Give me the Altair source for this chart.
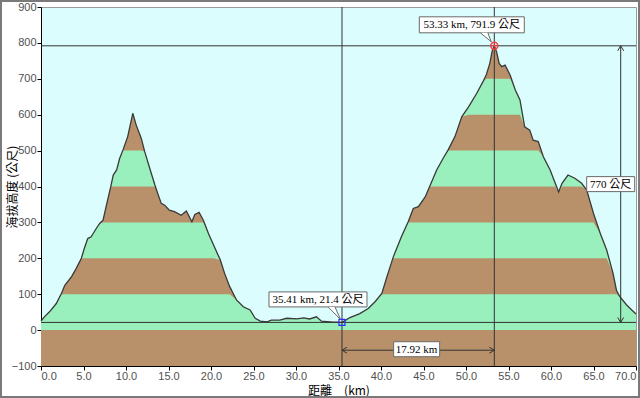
import altair as alt
import pandas as pd

# ---- profile data (distance km, elevation m) ----
km = [0.0, 0.4, 1.0, 1.8, 2.4, 2.8, 3.6, 4.15, 4.75, 5.1, 5.5, 5.9, 6.5, 6.9, 7.3, 7.7, 8.2, 8.5, 8.9, 9.25,
      9.65, 10.2, 10.8, 11.2, 11.8, 12.2, 12.8, 13.4, 13.8, 14.15, 14.55, 15.1, 15.7, 16.5, 17.1, 17.75, 18.1,
      18.6, 19.1, 19.7, 20.3, 21.1, 21.6, 22.2, 23.0, 23.8, 24.6, 25.2, 25.8, 26.6, 27.1, 28.1, 28.9, 30.1,
      30.9, 31.6, 32.4, 33.0, 34.0, 34.8, 35.41, 36.35, 37.5, 38.5, 39.3, 40.1, 40.7, 41.45, 42.4, 43.2,
      43.8, 44.4, 45.2, 45.8, 46.55, 47.3, 47.9, 48.7, 49.5, 50.3, 51.25, 52.0, 52.4, 52.8, 53.1, 53.33,
      53.6, 53.9, 54.2, 54.6, 55.2, 55.8, 56.35, 56.9, 57.5, 57.9, 58.5, 59.1, 59.9, 60.5, 60.9, 61.3,
      62.0, 62.8, 63.6, 64.2, 65.0, 65.8, 66.55, 67.3, 67.7, 68.1, 68.9, 69.5, 70.0]
elev = [25, 37, 51, 74, 102, 125, 149, 172, 200, 228, 255, 260, 283, 297, 306, 348, 399, 432, 446, 478,
        502, 539, 604, 571, 534, 497, 450, 404, 376, 353, 348, 334, 330, 320, 332, 302, 322,
        328, 306, 269, 237, 195, 158, 121, 84, 65, 56, 33, 25, 23, 28, 28, 33, 31,
        34, 31, 37, 25, 23, 22, 21.4, 35, 46, 60, 79, 102, 149, 204, 260, 302,
        339, 344, 371, 404, 446, 478, 502, 539, 594, 622, 659, 692, 712, 743, 780, 791.9,
        775, 743, 734, 738, 710, 669, 641, 566, 557, 529, 525, 483, 446, 409, 385, 409,
        432, 423, 409, 390, 325, 269, 223, 158, 111, 93, 70, 56, 45]

marker_km = [35.41, 53.33]
marker_elev = [21.4, 791.9]

x_ticks = [0, 5, 10, 15, 20, 25, 30, 35, 40, 45, 50, 55, 60, 65, 70]
y_ticks = [-100, 0, 100, 200, 300, 400, 500, 600, 700, 800, 900]
band_tops = [800, 700, 600, 500, 400, 300, 200, 100, 0]

dim_line_elev = -56     # elevation where the distance dimension line sits
dim_line_km = 68.2      # distance where the height dimension line sits

GREEN = "#9AF0BC"
BROWN = "#B8916A"
LINE = "#3a3a3a"
BOXSTROKE = "#6a6a6a"
LABFONT = "Liberation Sans"
CJK = "Noto Sans CJK TC"
BOXFONT = "Liberation Serif, Noto Sans CJK TC"

W, H = 595, 359
xs = alt.Scale(domain=[0, 70], nice=False, zero=False)
ys = alt.Scale(domain=[-100, 900], nice=False, zero=False)

AX = alt.Axis(values=x_ticks, format=".1f", title="距離　(km)", grid=False,
              tickSize=4, tickColor="black", domainColor="black",
              labelFont=LABFONT, labelFontSize=11, labelColor="#505050", labelPadding=0,
              titleFont=CJK, titleFontSize=12, titleFontWeight="normal", titleColor="black",
              titleY=31, titleBaseline="bottom")
AY = alt.Axis(values=y_ticks, format="d", title="海拔高度 (公尺)", grid=False,
              tickSize=4, tickColor="black", domainColor="black",
              labelFont=LABFONT, labelFontSize=11, labelColor="#505050", labelPadding=1,
              titleFont=CJK, titleFontSize=12, titleFontWeight="normal", titleColor="black",
              titleX=-29, titleY=H / 2, titleAngle=-90, titleAlign="center", titleBaseline="middle")


def X(field):
    return alt.X(field, type="quantitative", scale=xs, axis=AX)


def Y(field):
    return alt.Y(field, type="quantitative", scale=ys, axis=AY)


df = pd.DataFrame({"km": km, "elev": elev})
mk = pd.DataFrame({"km": marker_km, "elev": marker_elev})

layers = []
# banded fill (painter's order: highest band first)
for top in band_tops:
    lo = top - 100
    c = GREEN if (lo // 100) % 2 == 0 else BROWN
    layers.append(
        alt.Chart(df).transform_calculate(t=f"min(datum.elev, {top})")
        .mark_area(color=c, opacity=1, interpolate="linear")
        .encode(x=X("km"), y=Y("t"), y2=alt.datum(-100))
    )

# profile outline
layers.append(alt.Chart(df).mark_line(color=LINE, strokeWidth=1.3).encode(x=X("km"), y=Y("elev")))

# crosshairs
layers.append(alt.Chart(mk).mark_rule(color="#333333", strokeWidth=1).encode(x=X("km")))
layers.append(alt.Chart(mk).mark_rule(color="#333333", strokeWidth=1).encode(y=Y("elev")))

# dimension lines
dist = round(marker_km[1] - marker_km[0], 2)
rise = int(marker_elev[1] - marker_elev[0])
hd = pd.DataFrame({"a": [marker_km[0]], "b": [marker_km[1]], "y": [dim_line_elev]})
vd = pd.DataFrame({"x": [dim_line_km], "a": [marker_elev[0]], "b": [marker_elev[1]]})
layers.append(alt.Chart(hd).mark_rule(color="#333333", strokeWidth=1)
              .encode(x=X("a"), x2="b", y=Y("y")))
layers.append(alt.Chart(vd).mark_rule(color="#333333", strokeWidth=1)
              .encode(x=X("x"), y=Y("a"), y2="b"))

# arrow heads
arrows = pd.DataFrame({
    "km": [marker_km[0], marker_km[1], dim_line_km, dim_line_km],
    "elev": [dim_line_elev, dim_line_elev, marker_elev[1], marker_elev[0]],
    "path": ["M 5 -3 L 0 0 L 5 3", "M -5 -3 L 0 0 L -5 3",
             "M -3 5 L 0 0 L 3 5", "M -3 -5 L 0 0 L 3 -5"],
})
layers.append(alt.Chart(arrows).mark_point(size=4, filled=False, color="#333333", opacity=1, strokeWidth=1)
              .encode(x=X("km"), y=Y("elev"), shape=alt.Shape("path:N", scale=None, legend=None)))

# markers
layers.append(alt.Chart(mk.iloc[[0]]).mark_point(shape="square", size=36, filled=False, color="#2a2aff",
                                                  opacity=1, strokeWidth=1.2)
              .encode(x=X("km"), y=Y("elev")))
layers.append(alt.Chart(mk.iloc[[1]]).mark_point(shape="circle", size=50, filled=False, color="#ff3b3b",
                                                  opacity=1, strokeWidth=1.5)
              .encode(x=X("km"), y=Y("elev")))
layers.append(alt.Chart(mk.iloc[[1]]).mark_point(shape="cross", size=10, filled=True, color="#ff3b3b",
                                                  opacity=1)
              .encode(x=X("km"), y=Y("elev")))


def box(xv, yv, text, w, h, ox, oy, tail=None):
    d = pd.DataFrame({"km": [xv], "elev": [yv], "label": [text]})
    path = f"M {ox - w / 2} {oy - h / 2} h {w} v {h} h {-w} Z"
    out = [alt.Chart(d).mark_point(shape=path, size=4, fill="white", stroke=BOXSTROKE, strokeWidth=1,
                                   opacity=1, fillOpacity=1)
           .encode(x=X("km"), y=Y("elev"))]
    if tail:
        out.append(alt.Chart(d).mark_point(shape=tail, size=4, fill="white", stroke=BOXSTROKE,
                                           strokeWidth=1, opacity=1, fillOpacity=1)
                   .encode(x=X("km"), y=Y("elev")))
    out.append(alt.Chart(d).mark_text(font=BOXFONT, fontSize=11, color="black", align="center",
                                      baseline="middle", dx=ox, dy=oy + 0.5)
               .encode(x=X("km"), y=Y("elev"), text="label:N"))
    return out


lab1 = f"{marker_km[0]} km, {marker_elev[0]} 公尺"
lab2 = f"{marker_km[1]} km, {marker_elev[1]} 公尺"
layers += box(marker_km[0], marker_elev[0], lab1, 98, 15, -24, -23,
              tail="M -14 -15.5 L -1.5 -3 L -7 -15.5")
layers += box(marker_km[1], marker_elev[1], lab2, 105, 16, -22.5, -21,
              tail="M -14 -13 L -3 -4 L -6.5 -13")
layers += box(dim_line_km, (marker_elev[0] + marker_elev[1]) / 2, f"{rise} 公尺", 48, 15, -10, 0)
layers += box((marker_km[0] + marker_km[1]) / 2, dim_line_elev, f"{dist:.2f} km", 46, 15, -1.5, -1)

# outer image frame (decoration)
layers.append(alt.Chart(pd.DataFrame({"a": [0]})).mark_rect(fill=None, stroke="#7a7a7a", strokeWidth=2)
              .encode(x=alt.value(-40), x2=alt.value(598), y=alt.value(-6), y2=alt.value(390)))

chart = alt.layer(*layers).properties(
    width=W, height=H,
    autosize=alt.AutoSizeParams(type="none"),
    padding={"left": 41, "top": 7, "right": 4, "bottom": 32},
    background="white",
).configure_view(fill="#DCFDFD", stroke="#9a9a9a", strokeWidth=1)

chart.save("out.html", embed_options={"renderer": "svg", "actions": False})
